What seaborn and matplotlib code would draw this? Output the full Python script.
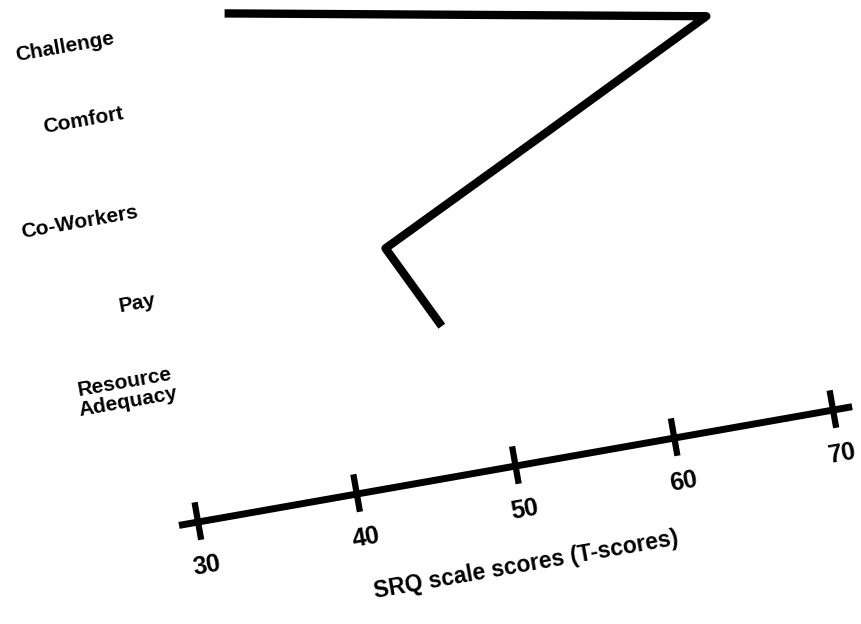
import numpy as np
import matplotlib
matplotlib.use("Agg")
import matplotlib.pyplot as plt
import seaborn as sns

# ------------------------------------------------------------------
# Data
# ------------------------------------------------------------------
categories = ["Challenge", "Comfort", "Co-Workers", "Pay", "Resource\nAdequacy"]
scores = [37.1, 66.5, 55.5, 44.4, 47.0]
tick_values = [30, 40, 50, 60, 70]
tick_labels = ["30", "40", "50", "60", "70"]
axis_range = [28.8, 71.2]
axis_title = "SRQ scale scores (T-scores)"

# ------------------------------------------------------------------
# Layout: the scanned page is tilted ~10 degrees, so everything is laid
# out in a (u, v) frame and then rotated into pixel space.
# ------------------------------------------------------------------
THETA = np.deg2rad(10.0)
U0, SCORE0, PX_PER_PT = 104.4, 30.0, 16.12
V0, V_STEP = 52.2, 86.44
AXIS_V = 548.5
label_du = [55.8, 60.9, 39.3, 82.3, 56.0]     # label centres (u)
label_dv = [5.4, -6.0, 7.2, 10.7, 10.0]       # offsets from level (v)


def to_px(u, v):
    u = np.asarray(u, dtype=float)
    v = np.asarray(v, dtype=float)
    c, s = np.cos(THETA), np.sin(THETA)
    return u * c + v * s, -u * s + v * c


def score_u(score):
    return U0 + (np.asarray(score, dtype=float) - SCORE0) * PX_PER_PT


sns.set_style("white")
plt.rcParams["font.family"] = ["Liberation Sans", "DejaVu Sans"]
plt.rcParams["text.color"] = "black"

fig = plt.figure(figsize=(8.62, 6.24), dpi=100)
ax = fig.add_axes([0, 0, 1, 1])

levels = V0 + V_STEP * np.arange(len(categories))

# profile line
x, y = to_px(score_u(scores), levels)
sns.lineplot(x=x, y=y, sort=False, estimator=None, color="black", lw=6.0,
             solid_joinstyle="round", solid_capstyle="butt", ax=ax)

# tilted score axis
ax_x, ax_y = to_px(score_u(axis_range), [AXIS_V, AXIS_V])
sns.lineplot(x=ax_x, y=ax_y, sort=False, estimator=None, color="black", lw=5.0,
             solid_capstyle="butt", ax=ax)

for val, lab in zip(tick_values, tick_labels):
    u = score_u(val)
    tx, ty = to_px([u, u], [AXIS_V - 20, AXIS_V + 18])
    sns.lineplot(x=tx, y=ty, sort=False, estimator=None, color="black", lw=4.5,
                 solid_capstyle="butt", ax=ax)
    lx, ly = to_px(u + 1.5, AXIS_V + 45)
    ax.text(lx, ly, lab, rotation=10, rotation_mode="anchor", ha="center",
            va="center", fontsize=18, fontweight="bold", color="black")

# category labels
for cat, du, dv, lev in zip(categories, label_du, label_dv, levels):
    lx, ly = to_px(du, lev + dv)
    ax.text(lx, ly, cat, rotation=10, rotation_mode="anchor", ha="center",
            va="center", fontsize=15, fontweight="bold", linespacing=1.1,
            color="black")

# axis title
tx, ty = to_px(score_u(49.6), 647.9)
ax.text(tx, ty, axis_title, rotation=10, rotation_mode="anchor", ha="center",
        va="center", fontsize=16.5, fontweight="bold", color="black")

ax.set_xlim(0, 862)
ax.set_ylim(624, 0)
ax.set_axis_off()

fig.savefig("out.png", dpi=100, facecolor="white")
plt.close(fig)
